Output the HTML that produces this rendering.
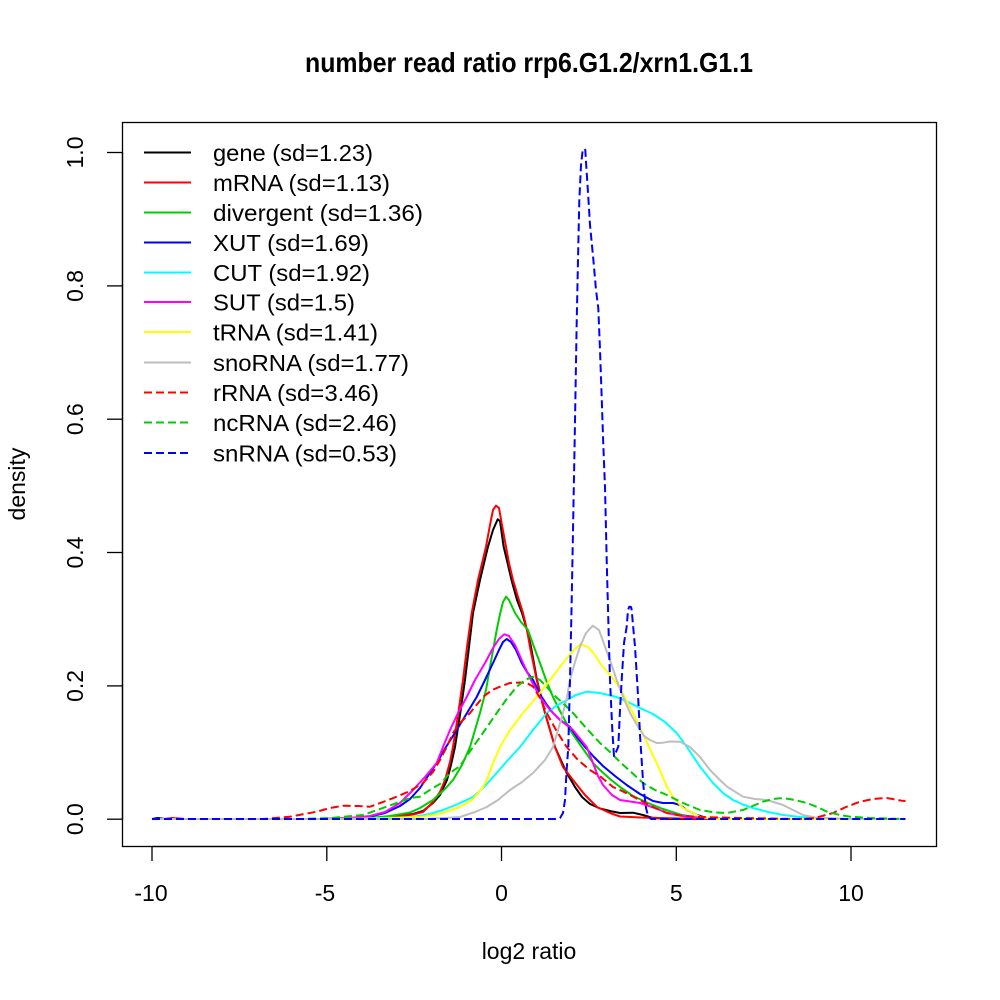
<!DOCTYPE html>
<html>
<head>
<meta charset="utf-8">
<style>
html,body{margin:0;padding:0;background:#fff;}
svg{display:block;}
text{font-family:"Liberation Sans",Arial,sans-serif;fill:#000;}
</style>
</head>
<body>
<svg width="1000" height="1000" viewBox="0 0 1000 1000" xmlns="http://www.w3.org/2000/svg">
<rect width="1000" height="1000" fill="#fff"/>
<!-- title -->
<text x="305" y="72" font-size="28" font-weight="bold" textLength="448" lengthAdjust="spacingAndGlyphs">number read ratio rrp6.G1.2/xrn1.G1.1</text>

<!-- box -->
<rect x="122.5" y="122.5" width="814" height="724" fill="none" stroke="#000" stroke-width="1.3"/>

<!-- x axis -->
<g stroke="#000" stroke-width="1.3">
<line x1="152" y1="846.5" x2="851" y2="846.5"/>
<line x1="152" y1="846" x2="152" y2="861"/>
<line x1="326.8" y1="846" x2="326.8" y2="861"/>
<line x1="501.5" y1="846" x2="501.5" y2="861"/>
<line x1="676.3" y1="846" x2="676.3" y2="861"/>
<line x1="851" y1="846" x2="851" y2="861"/>
</g>
<g font-size="23" text-anchor="middle">
<text x="151" y="901">-10</text>
<text x="325" y="901">-5</text>
<text x="501.5" y="901">0</text>
<text x="676.3" y="901">5</text>
<text x="851" y="901">10</text>
<text x="529" y="959">log2 ratio</text>
</g>

<!-- y axis -->
<g stroke="#000" stroke-width="1.3">
<line x1="122.5" y1="152.5" x2="122.5" y2="819.2"/>
<line x1="107" y1="819.2" x2="122" y2="819.2"/>
<line x1="107" y1="685.9" x2="122" y2="685.9"/>
<line x1="107" y1="552.5" x2="122" y2="552.5"/>
<line x1="107" y1="419.2" x2="122" y2="419.2"/>
<line x1="107" y1="285.9" x2="122" y2="285.9"/>
<line x1="107" y1="152.5" x2="122" y2="152.5"/>
</g>
<g font-size="23" text-anchor="middle">
<text transform="translate(83,819.2) rotate(-90)">0.0</text>
<text transform="translate(83,685.9) rotate(-90)">0.2</text>
<text transform="translate(83,552.5) rotate(-90)">0.4</text>
<text transform="translate(83,419.2) rotate(-90)">0.6</text>
<text transform="translate(83,285.9) rotate(-90)">0.8</text>
<text transform="translate(83,152.5) rotate(-90)">1.0</text>
<text transform="translate(25,484) rotate(-90)">density</text>
</g>

<!-- curves -->
<g fill="none" stroke-width="2" stroke-linejoin="round" stroke-linecap="butt">
<!-- gene black -->
<polyline stroke="#000000" points="152,819 158,818 165,819 360,819 380,818.5 400,816 413,814 423,811 433,803 440,795 447,780 451,765 455,747 460,715 465,680 469,647 473,613 480,580 488,546.7 493,530 497.7,519.3 500,521 503.5,546 508,565 512,582 517,600 522,613 527,630 531,647 537,680 545,713 555,747 566.7,773 575,787 582,797 590,804 600,808.5 610,811 620,813 633,812.7 643,815 653,818 670,819 905.5,819"/>
<!-- mRNA red -->
<polyline stroke="#FF0000" points="152,819 165,819 173,818 180,819 340,819 363,818 397,816.7 413,814.5 423,812 433,802 440,792 445,780 450,762 453,747 458,715 463,680 467,647 471.7,613 478,580 486,546.7 490,525 493,510 496,505.7 499,508 502,525 506,546.7 509,563 513,580 518,597 523,613 527,630 530,647 536.7,680 545,713 555,747 563,767 573,780 585,795 597,807 610,813 620,816.5 640,817.5 660,818 700,819 905.5,819"/>
<!-- divergent green -->
<polyline stroke="#00CD00" points="152,819 330,819 370,818 390,816 410,812.5 420,808 433,800 445,789 453,780 462,765 470,747 480,713 486,690 490.7,663 494,645 496.7,630 500,614 503,602 506,596.7 509,600 515,613 521,622 528,630 534,647 540,663 546,680 553,697 561,713 570,730 581.7,747 593,763 600,770 610,779 620,787 633,796 648,803 663,809 680,814.5 693,817 710,818.5 740,819 905.5,819"/>
<!-- XUT blue -->
<polyline stroke="#0000FF" points="152,819 320,819 350,818 370,816.5 385,813 400,806 410,799 420,788 428,776 436.7,763 446,747 456.7,730 467,713 476.7,697 485,680 493,663 499,650 503,642 506.7,639 511,642 516,650 521.7,663 527,672 533,680 537,688 541.7,697 547,705 553,713 560,720 570,727 577,737 585,747 594,757 603,766 615,776 626.7,785 640,794 653,801 663,803 673,803 680,805 686.7,810 697,815 706.7,818 720,819 905.5,819"/>
<!-- CUT cyan -->
<polyline stroke="#00FFFF" points="152,819 330,819 380,818 413,817 430,814 443,810 458,804 473,797 485,786 496.7,773 508,760 520,747 533,730 546.7,713 556,706 566.7,700 576,695 586.7,691.7 600,693 616.7,697 630,703 640,708 653,714 665,722 676.7,733 686.7,746.7 700,766.7 713,783 723,793 733,800 743,804.5 753,808 768,812 783,815 800,817 817,818 850,819 905.5,819"/>
<!-- SUT magenta -->
<polyline stroke="#FF00FF" points="152,819 320,819 350,818 370,816 385,812 400,803 413,790 425,777 436.7,763 443,747 450,730 458,713 466.7,697 475,680 485,663 493,648 499,639 504.3,634.3 509,636 515,645 523,663 531,680 540,697 550,710 560,720 573,730 586.7,747 593,763 598,776 603,785 612,795 620,800 640,803 655,808 667,813 685,816.5 700,818 720,819 905.5,819"/>
<!-- tRNA yellow -->
<polyline stroke="#FFFF00" points="152,819 330,819 380,818.5 420,817 440,814 460,807 472,800 483,787 488,777 493,763 500,747 510,730 523,713 536.7,697 550,680 563,663 572,652 580,644.3 588,647 595,655 600,663 610,675 620,688 625,698 632,711 640,727 648,745 656.7,763 667,787 673,797 683,808 693,813 700,817 715,819 905.5,819"/>
<!-- snoRNA gray -->
<polyline stroke="#BEBEBE" points="152,819 400,819 427,819 445,818 460,817 475,812 486.7,807 498,800 510,790 522,782 533,773 545,760 553,747 558,730 563,713 567,697 570,680 575,662 580,646.7 586,633 592.7,625.7 599,630 605,646.7 611,663 616.7,680 622,694 630,713 637,725 644,736 650,740 656.7,743 663,742.7 670,741.5 680,741.7 690,747 700,757 710,770 720,780 727,786.7 743,796.7 755,799 767,800 783,805 793,810 803,815 815,817.5 827,818 850,819 905.5,819"/>
</g>
<g fill="none" stroke-width="2" stroke-linejoin="round" stroke-dasharray="8 4">
<!-- rRNA red dashed -->
<polyline stroke="#FF0000" points="152,819 165,819 173,818 185,819 263,819 290,816.7 316.7,811.7 330,808 343,805.7 357,806 370,806.7 383,802 396.7,796.7 410,791 423,783 433,772 440,760 446.7,747 453,733 460,723 470,713 483,697 492,690 500,686.7 510,683 520,682.5 527,683 533,686.7 540,698 546.7,713 556,730 566.7,747 578,760 590,770 601,777 613,787 620,790 630,795 643,801.7 655,808 667,813 680,815.5 700,817 740,818 800,819 815,818 833,813 846,807 860,801.7 873,799 886.7,798 901.7,800.7 905.5,801"/>
<!-- ncRNA green dashed -->
<polyline stroke="#00CD00" points="152,819 300,819 330,818 363,815 380,809 396.7,803 410,798 420,796.7 426.7,792 433,788 440,784 450,773 460,766 473,747 485,730 496.7,713 506,700 516.7,686.7 525,680 533,676.7 540,680 546.7,687 556,697 565,705 573,713 587,729 600,743 610,752 620,762 630,771 643,783 655,790 667,795 683,803 700,810 715,812.5 727,813 743,810 755,805 763,801.7 773,799 783,798 795,800 807,803 817,807 827,811.7 840,815 850,816.7 870,818 905.5,819"/>
<!-- snRNA blue dashed -->
<polyline stroke="#0000FF" points="152,819 555,819 560,818 563,813 565,800 566.5,772 568.3,747 570,680 571.7,600 572.7,547 574.5,450 576.7,322 578,260 579.3,201 581,165 582.7,150 584,148.7 585.3,150 586.5,170 588.3,197 590,225 593.3,259 596,290 598.3,308 600,350 601.7,397.6 603.3,445 605,487 606.7,560 608.3,620 610,680 612.3,730 614,756 616,752 618.3,746.7 620,710 621.7,680 624,643 626.7,626.7 628,610 629.3,606.7 631,607 631.7,610 633,625 635,646.7 638.3,700 640,735 643.3,785 646,808 648.3,816.7 651,819 905.5,819"/>
</g>

<!-- legend -->
<g stroke-width="2">
<line x1="144" y1="152.5" x2="191" y2="152.5" stroke="#000000"/>
<line x1="144" y1="182.5" x2="191" y2="182.5" stroke="#FF0000"/>
<line x1="144" y1="212.5" x2="191" y2="212.5" stroke="#00CD00"/>
<line x1="144" y1="242.5" x2="191" y2="242.5" stroke="#0000FF"/>
<line x1="144" y1="272.5" x2="191" y2="272.5" stroke="#00FFFF"/>
<line x1="144" y1="302" x2="191" y2="302" stroke="#FF00FF"/>
<line x1="144" y1="332" x2="191" y2="332" stroke="#FFFF00"/>
<line x1="144" y1="362.5" x2="191" y2="362.5" stroke="#BEBEBE"/>
<line x1="144" y1="392.5" x2="190" y2="392.5" stroke="#FF0000" stroke-dasharray="8 4"/>
<line x1="144" y1="422.5" x2="190" y2="422.5" stroke="#00CD00" stroke-dasharray="8 4"/>
<line x1="144" y1="453" x2="190" y2="453" stroke="#0000FF" stroke-dasharray="8 4"/>
</g>
<g font-size="23.5" lengthAdjust="spacingAndGlyphs">
<text x="213" y="161" textLength="160" lengthAdjust="spacingAndGlyphs">gene (sd=1.23)</text>
<text x="213" y="191" textLength="177" lengthAdjust="spacingAndGlyphs">mRNA (sd=1.13)</text>
<text x="213" y="221" textLength="210" lengthAdjust="spacingAndGlyphs">divergent (sd=1.36)</text>
<text x="213" y="251" textLength="156" lengthAdjust="spacingAndGlyphs">XUT (sd=1.69)</text>
<text x="213" y="281" textLength="157" lengthAdjust="spacingAndGlyphs">CUT (sd=1.92)</text>
<text x="213" y="310.5" textLength="142" lengthAdjust="spacingAndGlyphs">SUT (sd=1.5)</text>
<text x="213" y="340.5" textLength="165" lengthAdjust="spacingAndGlyphs">tRNA (sd=1.41)</text>
<text x="213" y="371" textLength="196" lengthAdjust="spacingAndGlyphs">snoRNA (sd=1.77)</text>
<text x="213" y="401" textLength="166" lengthAdjust="spacingAndGlyphs">rRNA (sd=3.46)</text>
<text x="213" y="431" textLength="184" lengthAdjust="spacingAndGlyphs">ncRNA (sd=2.46)</text>
<text x="213" y="461.5" textLength="184" lengthAdjust="spacingAndGlyphs">snRNA (sd=0.53)</text>
</g>
</svg>
</body>
</html>
